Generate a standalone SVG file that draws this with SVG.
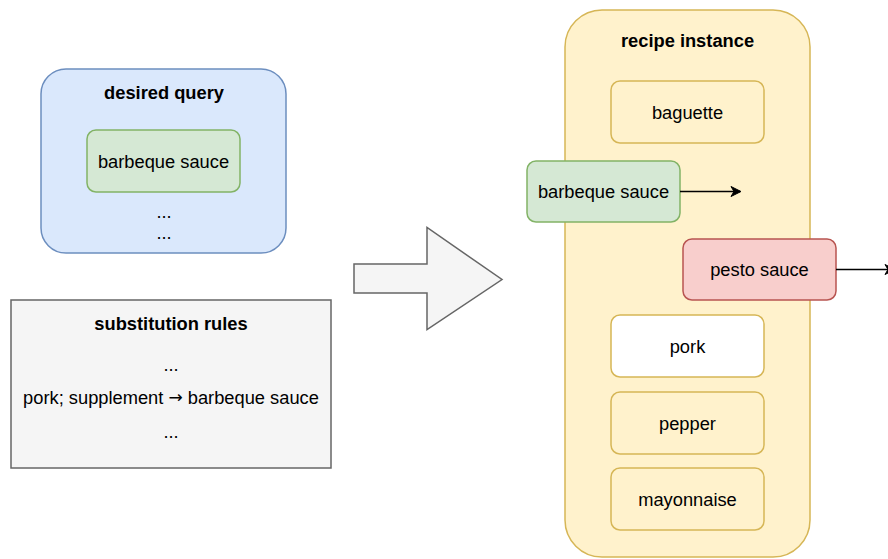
<svg xmlns="http://www.w3.org/2000/svg" width="888" height="559" viewBox="0 0 888 559">
  <style>
    text { font-family: "Liberation Sans", Arial, Helvetica, sans-serif; font-size: 18.3px; fill: #000; text-anchor: middle; dominant-baseline: central; }
    .title { font-weight: bold; }
    .sym { font-family: "DejaVu Sans", sans-serif; font-size: 17px; }
    .blue { fill: #dae8fc; stroke: #6c8ebf; stroke-width: 1.5; }
    .green { fill: #d5e8d4; stroke: #82b366; stroke-width: 1.5; }
    .yellow { fill: #fff2cc; stroke: #d6b656; stroke-width: 1.5; }
    .red { fill: #f8cecc; stroke: #b85450; stroke-width: 1.5; }
    .gray { fill: #f5f5f5; stroke: #666666; stroke-width: 1.5; }
    .white { fill: #ffffff; stroke: #d6b656; stroke-width: 1.5; }
    .edge { fill: none; stroke: #000; stroke-width: 1.5; }
  </style>
  <defs>
    <marker id="arrow" markerWidth="12" markerHeight="12" refX="10" refY="6" orient="auto" markerUnits="userSpaceOnUse">
      <path d="M1,1 L11,6 L1,11 L4,6 Z" fill="#000" stroke="#000" stroke-width="1"/>
    </marker>
  </defs>

  <!-- query box -->
  <g id="desired-query">
    <rect class="blue" x="41" y="69" width="245" height="184" rx="25"/>
    <text class="title" x="164" y="92">desired query</text>
    <text x="164" y="211">...</text>
    <text x="164" y="232">...</text>
  </g>
  <g id="query-barbeque">
    <rect class="green" x="87" y="130" width="153" height="62" rx="9"/>
    <text x="163.5" y="161">barbeque sauce</text>
  </g>

  <!-- rule list -->
  <g id="substitution-rules">
    <rect class="gray" x="11" y="300" width="320" height="168"/>
    <text class="title" x="171" y="323">substitution rules</text>
    <text x="171" y="364">...</text>
    <text x="171" y="397">pork; supplement <tspan class="sym">→</tspan> barbeque sauce</text>
    <text x="171" y="431">...</text>
  </g>

  <!-- transformation arrow -->
  <g id="transform-arrow">
    <path class="gray" d="M354,264 L427,264 L427,227.5 L502,279.5 L427,329.5 L427,293 L354,293 Z"/>
  </g>

  <!-- recipe container -->
  <g id="recipe-instance">
    <rect class="yellow" x="565" y="10" width="245" height="547" rx="37"/>
    <text class="title" x="687.5" y="40">recipe instance</text>
  </g>
  <g id="baguette">
    <rect class="yellow" x="611" y="81" width="153" height="62" rx="9"/>
    <text x="687.5" y="112">baguette</text>
  </g>
  <g id="pork">
    <rect class="white" x="611" y="315" width="153" height="62" rx="9"/>
    <text x="687.5" y="346">pork</text>
  </g>
  <g id="pepper">
    <rect class="yellow" x="611" y="392" width="153" height="62" rx="9"/>
    <text x="687.5" y="423">pepper</text>
  </g>
  <g id="mayonnaise">
    <rect class="yellow" x="611" y="468" width="153" height="62" rx="9"/>
    <text x="687.5" y="499">mayonnaise</text>
  </g>
  <g id="recipe-barbeque">
    <rect class="green" x="527" y="161" width="153" height="61" rx="9"/>
    <text x="603.5" y="191.5">barbeque sauce</text>
  </g>
  <g id="pesto">
    <rect class="red" x="683" y="239" width="153" height="61" rx="9"/>
    <text x="759.5" y="269.5">pesto sauce</text>
  </g>

  <!-- connectors -->
  <g id="connectors">
    <line class="edge" x1="680" y1="191.5" x2="740" y2="191.5" marker-end="url(#arrow)"/>
    <line class="edge" x1="836" y1="269.5" x2="894" y2="269.5" marker-end="url(#arrow)"/>
  </g>
</svg>
